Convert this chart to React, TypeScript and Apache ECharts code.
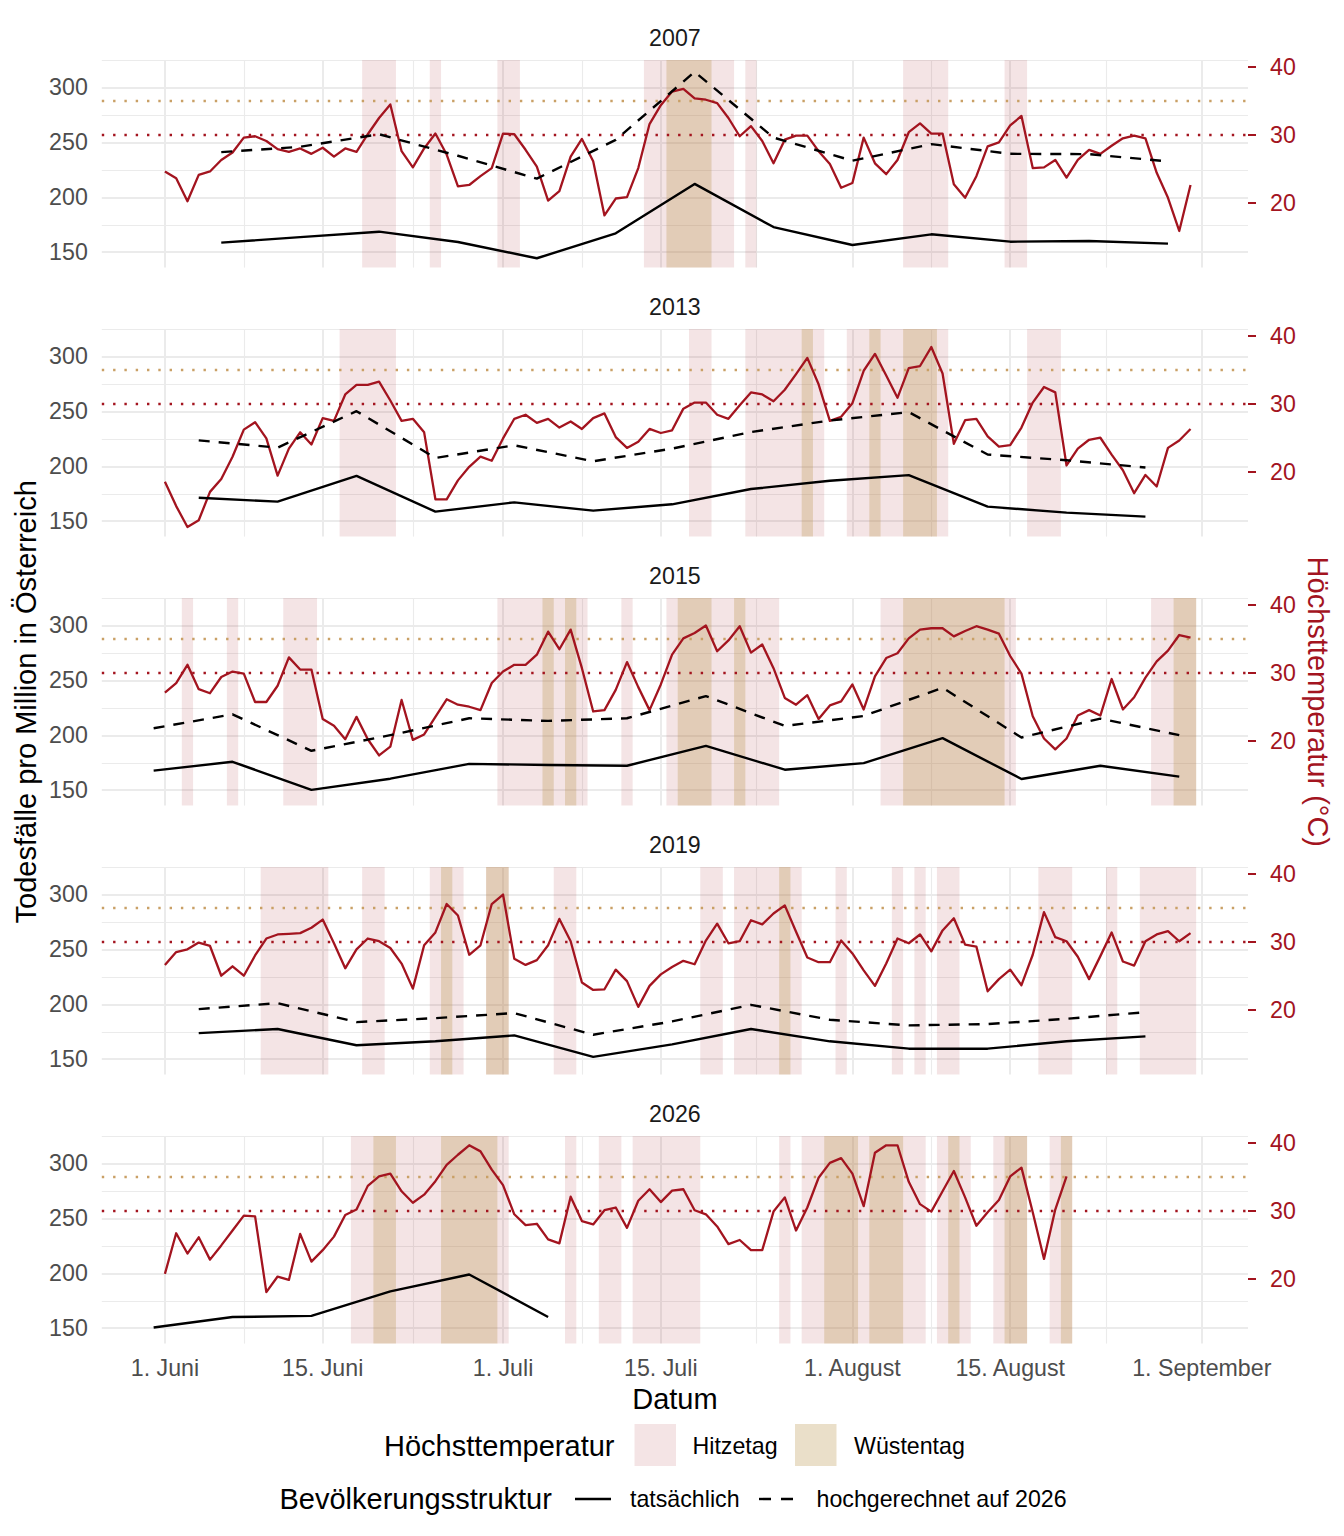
import React, { useEffect, useRef } from 'react';
import * as echarts from 'echarts';

// ---------- data ----------
const years = ['2007', '2013', '2015', '2019', '2026'];

// daily maximum temperature (°C), index = days since 1 June
const temp2007 = [24.6, 23.6, 20.2, 24.1, 24.6, 26.3, 27.4, 29.6, 29.8, 29.1, 27.9, 27.5, 28.0, 27.2, 28.1, 26.8, 28.0, 27.5, 30.1, 32.5, 34.5, 27.6, 25.2, 28.0, 30.2, 27.1, 22.4, 22.6, 23.9, 25.1, 30.2, 30.1, 27.8, 25.3, 20.3, 21.7, 26.8, 29.4, 26.1, 18.1, 20.6, 20.8, 25.1, 31.6, 34.4, 36.4, 36.8, 35.4, 35.2, 34.7, 32.5, 29.8, 31.3, 29.1, 25.8, 29.3, 29.9, 29.9, 27.6, 25.7, 22.2, 22.9, 29.6, 25.8, 24.2, 26.3, 30.4, 31.7, 30.2, 30.2, 22.7, 20.7, 23.9, 28.3, 28.9, 31.4, 32.8, 25.1, 25.2, 26.3, 23.7, 26.3, 27.8, 27.2, 28.4, 29.5, 29.9, 29.5, 24.4, 20.7, 15.8, 22.6];
const temp2013 = [18.5, 14.9, 11.8, 12.8, 17.0, 18.9, 22.2, 26.2, 27.3, 24.9, 19.4, 23.4, 25.8, 24.0, 27.9, 27.5, 31.4, 32.8, 32.8, 33.3, 30.5, 27.5, 27.8, 25.8, 15.9, 15.9, 18.7, 20.7, 22.2, 21.6, 24.9, 27.8, 28.4, 27.2, 27.8, 26.5, 27.4, 26.3, 27.9, 28.6, 25.1, 23.5, 24.4, 26.3, 25.7, 26.1, 29.3, 30.2, 30.2, 28.4, 27.8, 29.8, 31.7, 31.4, 30.4, 32.1, 34.4, 36.8, 32.9, 27.5, 28.1, 30.1, 34.9, 37.4, 34.2, 30.9, 35.3, 35.6, 38.4, 34.5, 24.1, 27.6, 27.8, 25.2, 23.7, 23.9, 26.5, 30.2, 32.5, 31.7, 20.9, 23.4, 24.7, 25.0, 22.5, 20.2, 16.8, 19.5, 17.8, 23.5, 24.6, 26.3];
const temp2015 = [27.1, 28.5, 31.2, 27.6, 27.0, 29.4, 30.2, 29.9, 25.7, 25.7, 28.1, 32.3, 30.5, 30.5, 23.2, 22.2, 20.2, 23.5, 20.2, 17.8, 19.1, 26.0, 20.1, 20.9, 23.5, 26.1, 25.3, 25.0, 24.5, 28.5, 30.2, 31.2, 31.2, 32.7, 36.1, 33.5, 36.4, 30.7, 24.3, 24.5, 27.5, 31.6, 27.9, 24.5, 28.3, 32.7, 35.1, 35.9, 37.0, 33.2, 34.8, 36.9, 33.0, 34.2, 30.7, 26.3, 25.3, 26.7, 23.2, 25.2, 25.8, 28.3, 24.6, 29.5, 32.2, 32.9, 35.1, 36.4, 36.6, 36.6, 35.4, 36.2, 36.9, 36.4, 35.8, 32.5, 29.9, 23.6, 20.3, 18.7, 20.3, 23.7, 24.5, 23.7, 29.1, 24.6, 26.4, 29.3, 31.7, 33.3, 35.6, 35.2];
const temp2019 = [26.6, 28.5, 28.9, 29.9, 29.4, 25.0, 26.4, 25.0, 28.0, 30.5, 31.1, 31.2, 31.3, 32.1, 33.3, 29.8, 26.1, 28.9, 30.5, 30.1, 29.1, 26.8, 23.1, 29.5, 31.4, 35.6, 33.9, 28.1, 29.5, 35.6, 37.0, 27.5, 26.6, 27.3, 29.5, 33.4, 30.1, 24.0, 22.9, 23.0, 25.9, 24.2, 20.4, 23.5, 25.2, 26.3, 27.2, 26.7, 30.2, 32.7, 29.8, 30.1, 33.2, 32.6, 34.2, 35.4, 31.5, 27.7, 27.0, 27.0, 30.2, 28.3, 25.8, 23.5, 26.8, 30.5, 29.8, 31.1, 28.6, 31.7, 33.5, 29.6, 29.3, 22.7, 24.5, 25.9, 23.6, 28.1, 34.4, 30.7, 30.1, 27.8, 24.5, 27.9, 31.4, 27.1, 26.5, 30.1, 31.1, 31.6, 30.1, 31.3];
const temp2026 = [20.7, 26.7, 23.7, 26.1, 22.8, 24.9, 27.1, 29.3, 29.2, 18.0, 20.3, 19.8, 26.6, 22.5, 24.2, 26.2, 29.4, 30.2, 33.7, 35.1, 35.5, 32.9, 31.2, 32.4, 34.4, 36.8, 38.3, 39.7, 38.8, 36.1, 33.8, 29.5, 27.9, 28.1, 25.8, 25.2, 32.1, 28.5, 28.0, 30.1, 30.5, 27.5, 31.5, 33.2, 31.3, 33.0, 33.2, 30.1, 29.5, 27.7, 25.1, 25.7, 24.2, 24.2, 29.9, 32.0, 27.1, 30.5, 34.9, 37.1, 37.8, 35.5, 30.7, 38.6, 39.7, 39.7, 34.3, 31.0, 29.9, 32.9, 35.9, 32.0, 27.8, 29.8, 31.6, 35.1, 36.4, 29.8, 22.9, 30.2, 35.1];

// hot days (Hitzetag, >= 30 °C) and desert days (Wüstentag, >= 35 °C), days since 1 June
const hitze2007 = [18, 19, 20, 24, 30, 31, 43, 44, 45, 46, 47, 48, 49, 50, 52, 66, 67, 68, 69, 75, 76];
const wueste2007 = [45, 46, 47, 48];
const hitze2013 = [16, 17, 18, 19, 20, 47, 48, 52, 53, 54, 55, 56, 57, 58, 61, 62, 63, 64, 65, 66, 67, 68, 69, 77, 78, 79];
const wueste2013 = [57, 63, 66, 67, 68];
const hitze2015 = [2, 6, 11, 12, 13, 30, 31, 32, 33, 34, 35, 36, 37, 41, 45, 46, 47, 48, 49, 50, 51, 52, 53, 54, 64, 65, 66, 67, 68, 69, 70, 71, 72, 73, 74, 75, 88, 89, 90, 91];
const wueste2015 = [34, 36, 46, 47, 48, 51, 66, 67, 68, 69, 70, 71, 72, 73, 74, 90, 91];
const hitze2019 = [9, 10, 11, 12, 13, 14, 18, 19, 24, 25, 26, 29, 30, 35, 36, 48, 49, 51, 52, 53, 54, 55, 56, 60, 65, 67, 69, 70, 78, 79, 80, 84, 87, 88, 89, 90, 91];
const wueste2019 = [25, 29, 30, 55];
const hitze2026 = [17, 18, 19, 20, 21, 22, 23, 24, 25, 26, 27, 28, 29, 30, 36, 39, 40, 42, 43, 44, 45, 46, 47, 55, 57, 58, 59, 60, 61, 62, 63, 64, 65, 66, 67, 69, 70, 71, 74, 75, 76, 79, 80];
const wueste2026 = [19, 20, 25, 26, 27, 28, 29, 59, 60, 61, 63, 64, 65, 70, 75, 76, 80];

// weekly deaths per million: week-centre day, actual, projected to 2026 population
const weeks2007 = [5, 12, 19, 26, 33, 40, 47, 54, 61, 68, 75, 82, 89];
const actual2007 = [158.7, 163.7, 168.7, 159.3, 144.5, 167.2, 212.2, 172.9, 156.6, 166.3, 159.6, 160.2, 157.8];
const projected2007 = [241.1, 246.0, 257.4, 237.8, 217.0, 252.3, 314.2, 254.4, 233.3, 248.4, 239.6, 239.3, 232.7];
const weeks2013 = [3, 10, 17, 24, 31, 38, 45, 52, 59, 66, 73, 80, 87];
const actual2013 = [171.4, 167.8, 191.3, 158.7, 167.2, 159.6, 165.4, 179.3, 186.8, 192.0, 163.3, 157.8, 154.2];
const projected2013 = [223.6, 217.0, 250.2, 207.6, 219.1, 204.6, 216.1, 231.2, 241.7, 249.3, 210.7, 205.5, 198.9];
const weeks2015 = [-1, 6, 13, 20, 27, 34, 41, 48, 55, 62, 69, 76, 83, 90];
const actual2015 = [167.8, 175.9, 150.3, 160.5, 174.0, 173.0, 172.3, 190.4, 168.7, 174.7, 197.4, 160.2, 172.3, 162.4];
const projected2015 = [206.4, 219.1, 185.9, 200.1, 215.5, 213.1, 215.5, 235.7, 208.5, 217.6, 243.3, 198.0, 215.2, 200.1];
const weeks2019 = [3, 10, 17, 24, 31, 38, 45, 52, 59, 66, 73, 80, 87];
const actual2019 = [173.8, 177.5, 162.7, 166.3, 171.7, 152.1, 163.5, 177.5, 166.3, 159.6, 159.6, 166.3, 170.8];
const projected2019 = [195.6, 201.0, 183.8, 187.4, 192.0, 172.3, 184.4, 199.5, 185.9, 180.8, 182.0, 186.8, 192.8];
const weeks2026 = [-1, 6, 13, 20, 27, 34];
const actual2026 = [150.6, 160.2, 161.2, 183.5, 198.9, 160.2];
const projected2026: number[] = [];

const temps = [temp2007, temp2013, temp2015, temp2019, temp2026];
const hitze = [hitze2007, hitze2013, hitze2015, hitze2019, hitze2026];
const wueste = [wueste2007, wueste2013, wueste2015, wueste2019, wueste2026];
const weeks = [weeks2007, weeks2013, weeks2015, weeks2019, weeks2026];
const actual = [actual2007, actual2013, actual2015, actual2019, actual2026];
const projected = [projected2007, projected2013, projected2015, projected2019, projected2026];

// ticks
const xTickDays = [0, 14, 30, 44, 61, 75, 92];
const xTickLabels = ['1. Juni', '15. Juni', '1. Juli', '15. Juli', '1. August', '15. August', '1. September'];
const xMinorDays = [7, 22, 37, 52.5, 68, 83.5];
const deathTicks = [150, 200, 250, 300];
const deathMinorTicks = [175, 225, 275, 325];
const tempTicks = [20, 30, 40];
const hitzeThreshold = 30;
const wuesteThreshold = 35;

// ---------- layout / style ----------
const FONT = "'Liberation Sans', Arial, Helvetica, sans-serif";
const RED = '#a3141f';
const TAN_LINE = '#c9a066';
const HITZE_FILL = 'rgba(160,20,30,0.115)';
const WUESTE_FILL = 'rgba(185,150,77,0.3)';
const GRID_COLOR = '#ebebeb';
const TICK_COLOR = '#4d4d4d';

const GRID_LEFT = 101.8;
const GRID_W = 1146.2;
const PANEL_TOP0 = 60;
const PANEL_PITCH = 269;
const PANEL_H = 207.6;
const X_MIN = -5.6;
const X_MAX = 96.1;
const Y_MIN = 136;
const Y_MAX = 325;
// secondary axis: 30 °C <-> 256.8 deaths, 6.16 deaths per °C
const T_MIN = 30 + (Y_MIN - 256.8) / 6.16;
const T_MAX = 30 + (Y_MAX - 256.8) / 6.16;
const TICK_FS = 23.2;
const TITLE_FS = 29;

function runs(days: number[]): [number, number][] {
  const out: [number, number][] = [];
  days.forEach((d) => {
    const last = out[out.length - 1];
    if (last && d === last[1] + 1) last[1] = d;
    else out.push([d, d]);
  });
  return out;
}

function buildOption() {
  const grids: any[] = [];
  const xAxes: any[] = [];
  const yAxes: any[] = [];
  const series: any[] = [];
  const graphic: any[] = [];

  years.forEach((year, i) => {
    const top = PANEL_TOP0 + i * PANEL_PITCH;
    grids.push({ left: GRID_LEFT, width: GRID_W, top, height: PANEL_H, containLabel: false });

    // major x
    xAxes.push({
      type: 'value', gridIndex: i, position: 'bottom', min: X_MIN, max: X_MAX,
      axisLine: { show: false },
      axisTick: { show: false, customValues: xTickDays },
      axisLabel: {
        show: i === years.length - 1,
        customValues: xTickDays,
        formatter: (v: number) => {
          const k = xTickDays.indexOf(v);
          return k >= 0 ? xTickLabels[k] : '';
        },
        color: TICK_COLOR, fontSize: TICK_FS, fontFamily: FONT, margin: 13,
      },
      splitLine: { show: true, lineStyle: { color: GRID_COLOR, width: 2 } },
    });
    // minor x
    xAxes.push({
      type: 'value', gridIndex: i, position: 'bottom', min: X_MIN, max: X_MAX,
      axisLine: { show: false },
      axisTick: { show: false, customValues: xMinorDays },
      axisLabel: { show: false },
      splitLine: { show: true, lineStyle: { color: GRID_COLOR, width: 1.1 } },
    });
    // major y (deaths)
    yAxes.push({
      type: 'value', gridIndex: i, position: 'left', min: Y_MIN, max: Y_MAX,
      axisLine: { show: false },
      axisTick: { show: false, customValues: deathTicks },
      axisLabel: { customValues: deathTicks, color: TICK_COLOR, fontSize: TICK_FS, fontFamily: FONT, margin: 14 },
      splitLine: { show: true, lineStyle: { color: GRID_COLOR, width: 2 } },
    });
    // minor y
    yAxes.push({
      type: 'value', gridIndex: i, position: 'left', min: Y_MIN, max: Y_MAX,
      axisLine: { show: false },
      axisTick: { show: false, customValues: deathMinorTicks },
      axisLabel: { show: false },
      splitLine: { show: true, lineStyle: { color: GRID_COLOR, width: 1.1 } },
    });
    // temperature (right)
    yAxes.push({
      type: 'value', gridIndex: i, position: 'right', min: T_MIN, max: T_MAX,
      axisLine: { show: false },
      axisTick: { show: true, customValues: tempTicks, length: 8, lineStyle: { color: RED, width: 2 } },
      axisLabel: { customValues: tempTicks, color: RED, fontSize: TICK_FS, fontFamily: FONT, margin: 22 },
      splitLine: { show: false },
    });

    const xi = 2 * i;
    const yDeaths = 3 * i;
    const yTemp = 3 * i + 2;

    const areaData: any[] = [];
    runs(hitze[i]).forEach(([a, b]) => {
      areaData.push([{ xAxis: a - 0.5, itemStyle: { color: HITZE_FILL } }, { xAxis: b + 0.5 }]);
    });
    runs(wueste[i]).forEach(([a, b]) => {
      areaData.push([{ xAxis: a - 0.5, itemStyle: { color: WUESTE_FILL } }, { xAxis: b + 0.5 }]);
    });

    series.push({
      type: 'line', name: 'temp' + year, xAxisIndex: xi, yAxisIndex: yTemp,
      data: temps[i].map((t, d) => [d, t]),
      symbol: 'none', showSymbol: false, z: 3,
      lineStyle: { color: RED, width: 2.3, join: 'round' },
      markArea: { silent: true, z: 1, itemStyle: { borderWidth: 0 }, data: areaData },
      markLine: {
        silent: true, symbol: ['none', 'none'], label: { show: false }, z: 2,
        lineStyle: { width: 2.4, type: [2.4, 8.9] },
        data: [
          { yAxis: wuesteThreshold, lineStyle: { color: TAN_LINE, width: 2.4, type: [2.4, 8.9] } },
          { yAxis: hitzeThreshold, lineStyle: { color: RED, width: 2.4, type: [2.4, 8.9] } },
        ],
      },
    });
    series.push({
      type: 'line', name: 'actual' + year, xAxisIndex: xi, yAxisIndex: yDeaths,
      data: weeks[i].map((d, k) => [d, actual[i][k]]),
      symbol: 'none', showSymbol: false, z: 4,
      lineStyle: { color: '#000000', width: 2.4, join: 'round' },
    });
    if (projected[i].length) {
      series.push({
        type: 'line', name: 'projected' + year, xAxisIndex: xi, yAxisIndex: yDeaths,
        data: weeks[i].map((d, k) => [d, projected[i][k]]),
        symbol: 'none', showSymbol: false, z: 4,
        lineStyle: { color: '#000000', width: 2.4, type: [11, 9], join: 'round' },
      });
    }

    graphic.push({
      type: 'text', x: GRID_LEFT + GRID_W / 2, y: top - 22,
      style: { text: year, fill: '#1a1a1a', font: `${TICK_FS}px ${FONT}`, textAlign: 'center', textVerticalAlign: 'middle' },
    });
  });

  const midY = PANEL_TOP0 + (PANEL_PITCH * (years.length - 1) + PANEL_H) / 2;
  graphic.push(
    {
      type: 'text', x: GRID_LEFT + GRID_W / 2, y: 1399,
      style: { text: 'Datum', fill: '#000', font: `${TITLE_FS}px ${FONT}`, textAlign: 'center', textVerticalAlign: 'middle' },
    },
    {
      type: 'text', x: 26, y: midY, rotation: Math.PI / 2,
      style: { text: 'Todesfälle pro Million in Österreich', fill: '#000', font: `${TITLE_FS}px ${FONT}`, textAlign: 'center', textVerticalAlign: 'middle' },
    },
    {
      type: 'text', x: 1318, y: midY, rotation: -Math.PI / 2,
      style: { text: 'Höchsttemperatur (°C)', fill: RED, font: `${TITLE_FS}px ${FONT}`, textAlign: 'center', textVerticalAlign: 'middle' },
    },
    // legend row 1
    {
      type: 'text', x: 384, y: 1446,
      style: { text: 'Höchsttemperatur', fill: '#000', font: `${TITLE_FS}px ${FONT}`, textAlign: 'left', textVerticalAlign: 'middle' },
    },
    { type: 'rect', shape: { x: 634.5, y: 1424, width: 41.5, height: 42 }, style: { fill: HITZE_FILL } },
    {
      type: 'text', x: 692.5, y: 1446,
      style: { text: 'Hitzetag', fill: '#000', font: `${TICK_FS}px ${FONT}`, textAlign: 'left', textVerticalAlign: 'middle' },
    },
    { type: 'rect', shape: { x: 795, y: 1424, width: 41.5, height: 42 }, style: { fill: WUESTE_FILL } },
    {
      type: 'text', x: 854, y: 1446,
      style: { text: 'Wüstentag', fill: '#000', font: `${TICK_FS}px ${FONT}`, textAlign: 'left', textVerticalAlign: 'middle' },
    },
    // legend row 2
    {
      type: 'text', x: 279.5, y: 1499,
      style: { text: 'Bevölkerungsstruktur', fill: '#000', font: `${TITLE_FS}px ${FONT}`, textAlign: 'left', textVerticalAlign: 'middle' },
    },
    { type: 'line', shape: { x1: 575, y1: 1499, x2: 611, y2: 1499 }, style: { stroke: '#000', lineWidth: 2.4 } },
    {
      type: 'text', x: 630, y: 1499,
      style: { text: 'tatsächlich', fill: '#000', font: `${TICK_FS}px ${FONT}`, textAlign: 'left', textVerticalAlign: 'middle' },
    },
    { type: 'line', shape: { x1: 759, y1: 1499, x2: 795, y2: 1499 }, style: { stroke: '#000', lineWidth: 2.4, lineDash: [12, 10] } },
    {
      type: 'text', x: 816.5, y: 1499,
      style: { text: 'hochgerechnet auf 2026', fill: '#000', font: `${TICK_FS}px ${FONT}`, textAlign: 'left', textVerticalAlign: 'middle' },
    },
  );

  return {
    animation: false,
    backgroundColor: '#ffffff',
    textStyle: { fontFamily: FONT },
    grid: grids,
    xAxis: xAxes,
    yAxis: yAxes,
    series,
    graphic,
  };
}

export default function App() {
  const ref = useRef<HTMLDivElement>(null);
  useEffect(() => {
    if (!ref.current) return;
    const chart = echarts.init(ref.current, undefined, { renderer: 'svg' });
    chart.setOption(buildOption() as any);
    return () => chart.dispose();
  }, []);
  return (
    <div
      ref={ref}
      style={{ position: 'absolute', left: 0, top: 0, width: '1344px', height: '1536px', background: '#fff' }}
    />
  );
}
